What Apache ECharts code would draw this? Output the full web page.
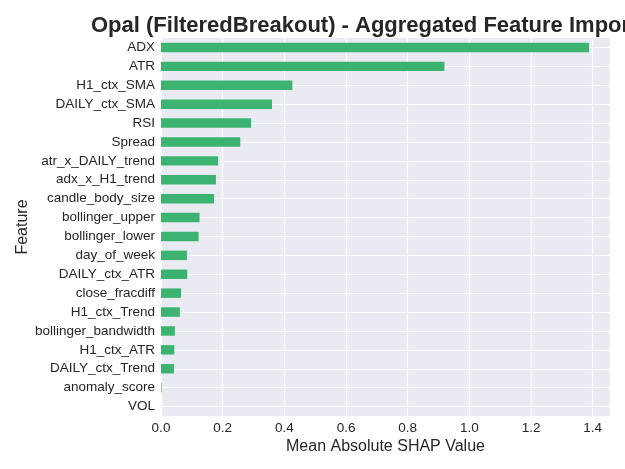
<!DOCTYPE html>
<html>
<head>
<meta charset="utf-8">
<script src="https://cdn.jsdelivr.net/npm/echarts@6/dist/echarts.min.js"></script>
<style>
  html, body { margin: 0; padding: 0; background: #fff; }
  #chart { width: 625px; height: 469px; }
</style>
</head>
<body>
<div id="chart"></div>
<script>
const features = ['ADX', 'ATR', 'H1_ctx_SMA', 'DAILY_ctx_SMA', 'RSI', 'Spread',
  'atr_x_DAILY_trend', 'adx_x_H1_trend', 'candle_body_size', 'bollinger_upper',
  'bollinger_lower', 'day_of_week', 'DAILY_ctx_ATR', 'close_fracdiff', 'H1_ctx_Trend',
  'bollinger_bandwidth', 'H1_ctx_ATR', 'DAILY_ctx_Trend', 'anomaly_score', 'VOL'];
const shapValues = [1.388, 0.919, 0.426, 0.360, 0.292, 0.257,
  0.185, 0.178, 0.172, 0.125,
  0.122, 0.084, 0.085, 0.065, 0.061,
  0.045, 0.043, 0.042, 0.002, 0];
const xTicks = [0, 0.2, 0.4, 0.6, 0.8, 1.0, 1.2, 1.4];

const textColor = '#262626';
const font = 'Liberation Sans, Arial, sans-serif';
const gridLine = { color: '#ffffff', width: 1.2, type: 'solid' };

let myChart = echarts.init(document.getElementById('chart'));
myChart.setOption({
  animation: false,
  textStyle: { fontFamily: font, color: textColor },
  title: {
    text: 'Opal (FilteredBreakout) - Aggregated Feature Importance',
    left: 86,
    top: 10,
    textStyle: { fontSize: 22, fontWeight: 'bold', color: textColor, fontFamily: font }
  },
  grid: {
    left: 161,
    right: 15,
    top: 38,
    bottom: 53,
    outerBoundsMode: 'none',
    containLabel: false,
    show: true,
    backgroundColor: '#EAEAF2',
    borderWidth: 0
  },
  xAxis: {
    type: 'value',
    min: 0,
    max: 1.456,
    interval: 0.2,
    name: 'Mean Absolute SHAP Value',
    nameLocation: 'middle',
    nameGap: 23,
    nameMoveOverlap: false,
    nameTextStyle: { fontSize: 16, color: textColor },
    axisLine: { show: false },
    axisTick: { show: false },
    axisLabel: {
      fontSize: 13.5,
      color: textColor,
      margin: 5,
      showMaxLabel: false,
      formatter: v => xTicks.some(t => Math.abs(t - v) < 1e-6) ? v.toFixed(1) : ''
    },
    splitLine: { show: true, lineStyle: gridLine }
  },
  yAxis: {
    type: 'category',
    data: features,
    inverse: true,
    name: 'Feature',
    nameLocation: 'middle',
    nameGap: 130,
    nameMoveOverlap: false,
    nameRotate: 90,
    nameTextStyle: { fontSize: 16, color: textColor },
    axisLine: { show: false },
    axisTick: { show: false },
    axisLabel: { fontSize: 13.5, color: textColor, margin: 6 },
    splitLine: { show: false }
  },
  series: [
    {
      // horizontal grid lines at category centres, drawn under the bars
      type: 'line',
      data: [],
      z: 1,
      silent: true,
      markLine: {
        z: 1,
        silent: true,
        symbol: 'none',
        label: { show: false },
        lineStyle: gridLine,
        data: features.map(f => ({ yAxis: f }))
      }
    },
    {
      type: 'bar',
      data: shapValues,
      barWidth: '50%',
      z: 3,
      itemStyle: { color: '#3CB371' },
      silent: true
    }
  ]
});
</script>
</body>
</html>
